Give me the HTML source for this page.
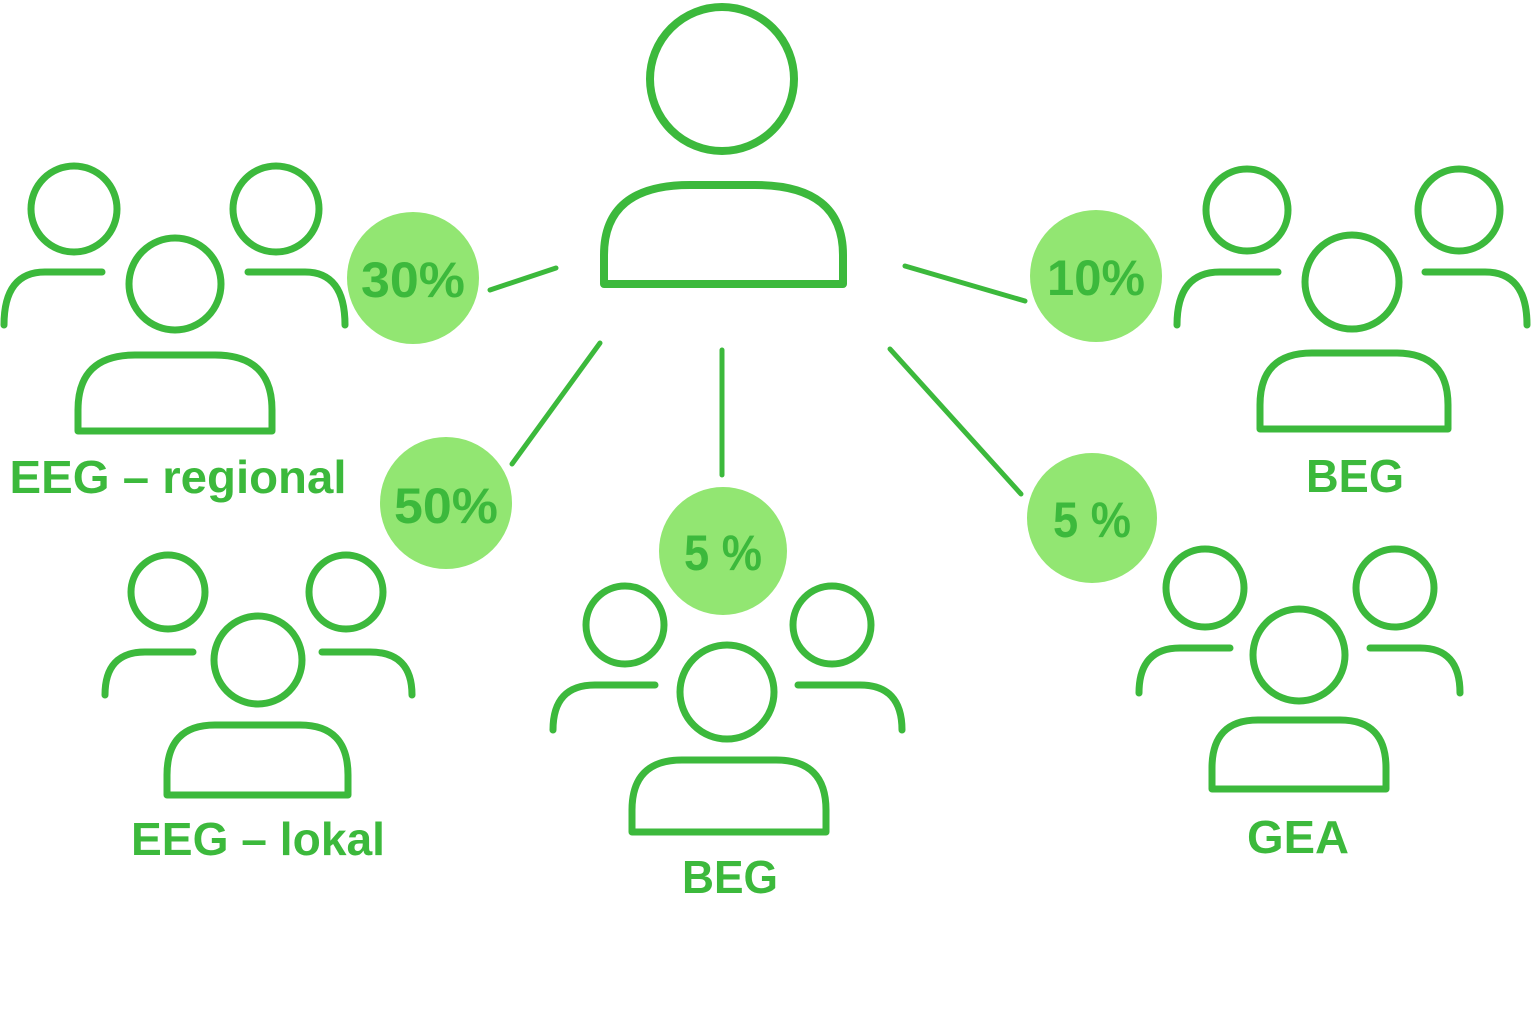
<!DOCTYPE html>
<html><head><meta charset="utf-8"><style>
html,body{margin:0;padding:0;background:#fff;width:1536px;height:1024px;overflow:hidden}
svg{display:block}
text{font-family:"Liberation Sans",sans-serif;font-weight:bold;fill:#3cb93c}
</style></head><body>
<svg width="1536" height="1024" viewBox="0 0 1536 1024" xmlns="http://www.w3.org/2000/svg">
<g fill="none" stroke="#3cb93c" stroke-width="7" stroke-linecap="round" stroke-linejoin="round">
<!-- central person -->
<circle cx="722" cy="79" r="72" stroke-width="8"/>
<path d="M604,284 V255 Q604,185 690,185 H755 Q843,185 843,255 V284 Z" stroke-width="8"/>
<!-- group EEG regional -->
<circle cx="74" cy="209" r="43"/><circle cx="276" cy="209" r="43"/><circle cx="175" cy="284" r="46"/>
<path d="M4,325 Q4,272 45,272 H102"/><path d="M248,272 H305 Q345,272 345,325"/>
<path d="M78,431 V410 Q78,355 135,355 H215 Q272,355 272,410 V431 Z"/>
<!-- EEG lokal -->
<circle cx="168" cy="592" r="37"/><circle cx="346" cy="592" r="37"/><circle cx="258" cy="660" r="44"/>
<path d="M105,695 Q105,652 145,652 H193"/><path d="M322,652 H370 Q412,652 412,695"/>
<path d="M167,795 V775 Q167,725 215,725 H300 Q348,725 348,775 V795 Z"/>
<!-- BEG bottom -->
<circle cx="625" cy="625" r="39"/><circle cx="832" cy="625" r="39"/><circle cx="727" cy="692" r="47"/>
<path d="M553,730 Q553,685 595,685 H655"/><path d="M798,685 H860 Q902,685 902,730"/>
<path d="M632,832 V810 Q632,760 682,760 H776 Q826,760 826,810 V832 Z"/>
<!-- BEG right -->
<circle cx="1247" cy="210" r="41"/><circle cx="1459" cy="210" r="41"/><circle cx="1352" cy="282" r="47"/>
<path d="M1177,325 Q1177,272 1220,272 H1278"/><path d="M1425,272 H1485 Q1527,272 1527,325"/>
<path d="M1260,429 V405 Q1260,353 1312,353 H1396 Q1448,353 1448,405 V429 Z"/>
<!-- GEA -->
<circle cx="1205" cy="588" r="39"/><circle cx="1395" cy="588" r="39"/><circle cx="1299" cy="655" r="46"/>
<path d="M1139,693 Q1139,648 1180,648 H1230"/><path d="M1370,648 H1420 Q1460,648 1460,693"/>
<path d="M1212,789 V768 Q1212,720 1258,720 H1340 Q1386,720 1386,768 V789 Z"/>
<!-- connectors -->
<g stroke-width="5">
<line x1="490" y1="290" x2="556" y2="268"/>
<line x1="512" y1="464" x2="600" y2="343"/>
<line x1="722" y1="350" x2="722" y2="475"/>
<line x1="890" y1="349" x2="1021" y2="494"/>
<line x1="905" y1="266" x2="1025" y2="301"/>
</g>
</g>
<g fill="#92e672">
<circle cx="413" cy="278" r="66"/><circle cx="446" cy="503" r="66"/><circle cx="723" cy="551" r="64"/>
<circle cx="1092" cy="518" r="65"/><circle cx="1096" cy="276" r="66"/>
</g>
<g font-size="50" text-anchor="middle">
<text x="413" y="297" textLength="104" lengthAdjust="spacingAndGlyphs">30%</text>
<text x="446" y="523" textLength="104" lengthAdjust="spacingAndGlyphs">50%</text>
<text x="723" y="570" textLength="78" lengthAdjust="spacingAndGlyphs">5 %</text>
<text x="1092" y="537" textLength="78" lengthAdjust="spacingAndGlyphs">5 %</text>
<text x="1096" y="295" textLength="98" lengthAdjust="spacingAndGlyphs">10%</text>
</g>
<g font-size="46" text-anchor="middle">
<text x="178" y="493" textLength="337" lengthAdjust="spacingAndGlyphs">EEG – regional</text>
<text x="258" y="855" textLength="254" lengthAdjust="spacingAndGlyphs">EEG – lokal</text>
<text x="730" y="893" textLength="96" lengthAdjust="spacingAndGlyphs">BEG</text>
<text x="1355" y="492" textLength="98" lengthAdjust="spacingAndGlyphs">BEG</text>
<text x="1298" y="853" textLength="102" lengthAdjust="spacingAndGlyphs">GEA</text>
</g>
</svg>
</body></html>
